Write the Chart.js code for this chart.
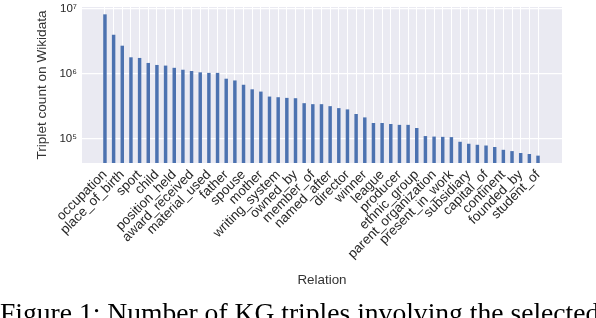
<!DOCTYPE html>
<html>
<head>
<meta charset="utf-8">
<script src="https://cdn.jsdelivr.net/npm/chart.js@4"></script>
<style>
  body { margin: 0; background: #fff; }
  #wrap { position: relative; width: 596px; height: 318px; overflow: hidden; }
  #caption {
    position: absolute; left: 0px; top: 299px; white-space: nowrap;
    font-family: "Liberation Serif", serif; font-size: 27.6px; line-height: 1; color: #000;
  }
</style>
</head>
<body>
<div id="wrap">
  <canvas id="kgChart" width="596" height="318"></canvas>
  <div id="caption">Figure 1: Number of KG triples involving the selected</div>
</div>
<script>
// relation names shown on the axis (every other bar is labelled)
const relations = [
  "occupation", "place_of_birth", "sport", "child", "position_held", "award_received",
  "material_used", "father", "spouse", "mother", "writing_system", "owned_by",
  "member_of", "named_after", "director", "winner", "league", "producer",
  "ethnic_group", "parent_organization", "present_in_work", "subsidiary",
  "capital_of", "continent", "founded_by", "student_of"
];

// triplet counts, one per bar (51 bars)
const counts = [
  8100000, 3930000, 2670000, 1770000, 1730000, 1450000, 1350000, 1320000, 1220000, 1140000,
  1090000, 1040000, 1020000, 1020000, 830000, 780000, 670000, 570000, 526000, 441000,
  431000, 421000, 416000, 349000, 337000, 337000, 314000, 293000, 280000, 238000,
  211000, 173000, 173000, 167000, 162000, 162000, 145000, 109000, 107000, 106000,
  105000, 89000, 83000, 80000, 78000, 74000, 67000, 64000, 59800, 57700, 54500
];

const yTicks = [1e5, 1e6, 1e7];
const yTickLabels = ["10\u2075", "10\u2076", "10\u2077"];

const textColor = "#262626";

const plotBg = {
  id: "plotBg",
  beforeDraw(chart) {
    const a = chart.chartArea;
    const ctx = chart.ctx;
    ctx.save();
    ctx.fillStyle = "#EAEAF2";
    ctx.fillRect(a.left, a.top, a.right - a.left, a.bottom - a.top);
    ctx.restore();
  }
};

const ctx = document.getElementById("kgChart").getContext("2d");
new Chart(ctx, {
  type: "bar",
  data: {
    datasets: [{
      data: counts.map((v, i) => ({ x: i, y: v })),
      backgroundColor: "#4C72B0",
      borderWidth: 0,
      barPercentage: 0.4,
      categoryPercentage: 1.0
    }]
  },
  plugins: [plotBg],
  options: {
    responsive: false,
    animation: false,
    layout: { padding: { left: 30, right: 34, top: 7, bottom: 26 } },
    plugins: { legend: { display: false }, tooltip: { enabled: false } },
    scales: {
      x: {
        type: "linear",
        offset: false,
        min: -2.65,
        max: 52.77,
        afterBuildTicks: axis => { axis.ticks = counts.map((_, i) => ({ value: i })); },
        afterFit: axis => { axis.height = 129; },
        border: { display: false },
        grid: { color: "#ffffff", lineWidth: 1, drawTicks: false, offset: false },
        ticks: {
          autoSkip: false,
          minRotation: 45,
          maxRotation: 45,
          padding: 4,
          color: textColor,
          font: { family: "Liberation Sans", size: 13.4 },
          callback: v => (v % 2 === 0 ? relations[v / 2] : "")
        },
        title: {
          display: true,
          text: "Relation",
          color: "#333",
          padding: { top: 0, bottom: 4 },
          font: { family: "Liberation Sans", size: 13.4 }
        }
      },
      y: {
        type: "logarithmic",
        min: 42000,
        max: 10500000,
        afterBuildTicks: axis => { axis.ticks = yTicks.map(v => ({ value: v })); },
        afterFit: axis => { axis.width = 52; axis.paddingTop = 0; axis.paddingBottom = 0; },
        border: { display: false },
        grid: { color: "#ffffff", lineWidth: 1.2, drawTicks: false },
        ticks: {
          padding: 5,
          color: textColor,
          font: { family: "Liberation Sans", size: 11.5 },
          callback: v => yTickLabels[yTicks.indexOf(v)]
        },
        title: {
          display: true,
          text: "Triplet count on Wikidata",
          color: "#333",
          padding: { top: 4, bottom: 4 },
          font: { family: "Liberation Sans", size: 13.6 }
        }
      }
    }
  }
});
</script>
</body>
</html>
